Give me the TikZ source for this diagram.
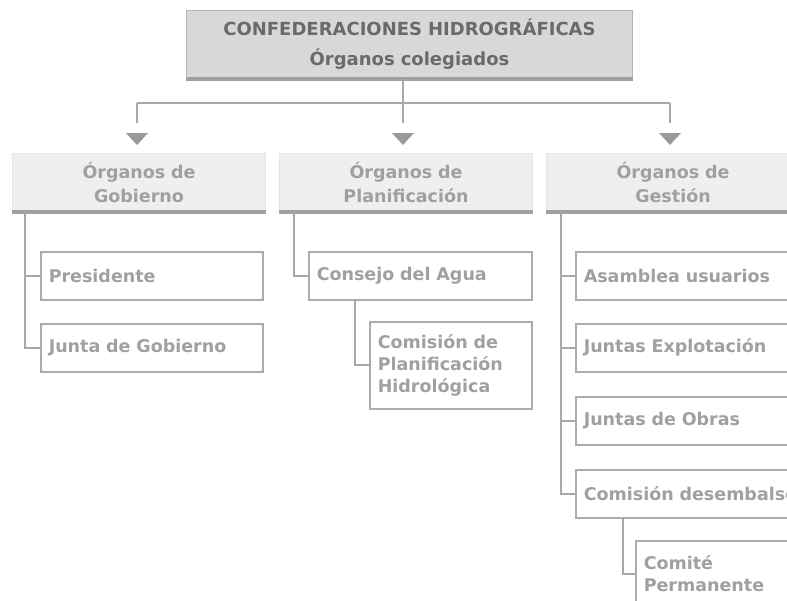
\documentclass[tikz,border=0pt]{standalone}
\usepackage{fontspec}
\setmainfont{DejaVu Sans}
\definecolor{topfill}{HTML}{D8D8D8}
\definecolor{topline}{HTML}{B4B4B4}
\definecolor{toptext}{HTML}{6A6A6A}
\definecolor{headfill}{HTML}{EFEFEF}
\definecolor{headline}{HTML}{E4E4E4}
\definecolor{boxline}{HTML}{ACACAC}
\definecolor{boxtext}{HTML}{A0A0A0}
\definecolor{linkgray}{HTML}{A8A8A8}
\definecolor{rulegray}{HTML}{A0A0A0}
\definecolor{tipgray}{HTML}{999999}
\begin{document}
\begin{tikzpicture}[x=1pt, y=-1pt,
		conf/.style={anchor=north west, fill=topfill, draw=topline, line width=1pt, minimum height=68pt, text width=446pt, inner sep=0pt, align=center, text=toptext, font=\bfseries\fontsize{18}{30}\selectfont},
		head/.style={anchor=north west, fill=headfill, draw=headline, line width=1pt, minimum height=58pt, inner sep=0pt, align=center, text=boxtext, font=\bfseries\fontsize{17.5}{24}\selectfont},
		item/.style={anchor=north west, fill=white, draw=boxline, line width=1.5pt, minimum height=48pt, inner xsep=8pt, inner ysep=0pt, align=left, text=boxtext, font=\bfseries\fontsize{17.5}{22}\selectfont},
		link/.style={draw=linkgray, line width=2pt},
		rule/.style={draw=rulegray, line width=4pt}]
	\useasboundingbox (0,0) rectangle (787,600);
	\fill[white] (0,0) rectangle (787,600);
	\clip (0,0) rectangle (787,600);
	% top
	\node[conf] (top) at (186,10) {CONFEDERACIONES HIDROGRÁFICAS\\Órganos colegiados};
	% second level
	\node[head, text width=253pt] (hG) at (12,153) {Órganos de\\Gobierno};
	\node[head, text width=253pt] (hP) at (279,153) {Órganos de\\Planificación};
	\node[head, text width=253pt] (hS) at (546,153) {Órganos de\\Gestión};
	\foreach \n in {top,hG,hP,hS} {
		\draw[rule] (\n.south west) -- (\n.south east);
		}
	% boxes
	\node[item, text width=206pt] (pres) at (40,251) {Presidente};
	\node[item, text width=206pt] (junta) at (40,323) {Junta de Gobierno};
	\node[item, text width=207pt] (cons) at (308,251) {Consejo del Agua};
	\node[item, text width=146pt, minimum height=87pt] (cph) at (369,321) {Comisión de\\Planificación\\Hidrológica};
	\node[item, text width=260pt] (asam) at (575,251) {Asamblea usuarios};
	\node[item, text width=260pt] (expl) at (575,323) {Juntas Explotación};
	\node[item, text width=260pt] (obras) at (575,396) {Juntas de Obras};
	\node[item, text width=260pt] (cdes) at (575,469) {Comisión desembalse};
	\node[item, text width=200pt, minimum height=66pt] (comite) at (635,540) {Comité\\Permanente};
	% connectors
	\coordinate (bar) at (403,103);
	\coordinate (aG) at (137,133);
	\coordinate (aP) at (403,133);
	\coordinate (aS) at (670,133);
	\draw[link] (bar |- top.south) -- (bar);
	\draw[link] (aG |- bar) -- (aS |- bar);
	\foreach \a in {aG,aP,aS} {
		\draw[link, shorten >=10pt] (\a |- bar) -- (\a);
		\fill[tipgray] (\a) ++(-11,0) -- ++(22,0) -- ++(-11,12) -- cycle;
		}
	\draw[link] ([xshift=13pt]hG.south west) |- (pres.west);
	\draw[link] ([xshift=13pt]hG.south west) |- (junta.west);
	\draw[link] ([xshift=15pt]hP.south west) |- (cons.west);
	\draw[link] ([xshift=47pt]cons.south west) |- (cph.west);
	\foreach \n in {asam,expl,obras,cdes} {
		\draw[link] ([xshift=15pt]hS.south west) |- (\n.west);
		}
	\draw[link] ([xshift=48pt]cdes.south west) |- (comite.west);
\end{tikzpicture}
\end{document}
